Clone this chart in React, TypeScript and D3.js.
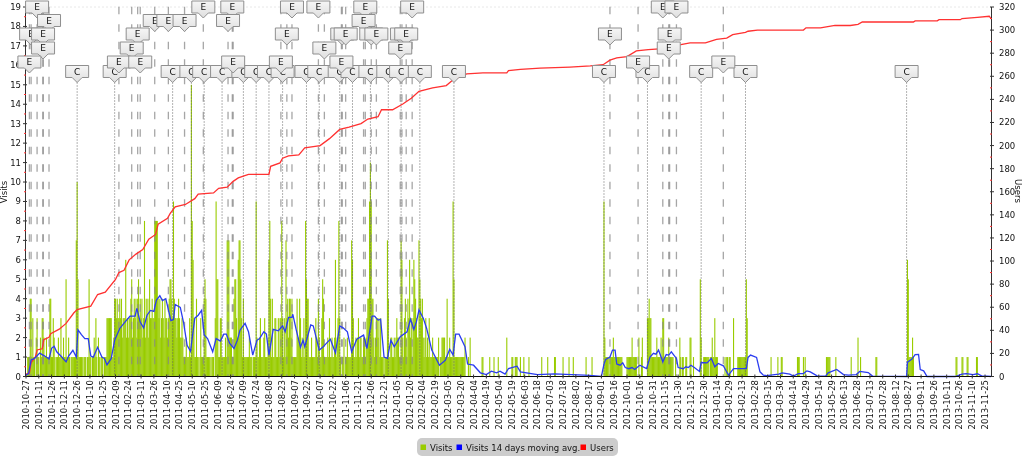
import * as React from "react";
import * as d3 from "d3";

const width = 1024;
const height = 459;
const plot = { left: 26, right: 991, top: 7, bottom: 376.5 };

// day 0 is the first tick label
const startDate = new Date(Date.UTC(2010, 9, 27));
const lastDay = 1132;
const tickStep = 15;

// daily visits, one row per 15 day tick
const visitsByTick = [
  [0,0,1,1,1,4,4,1,3,1,1,0,2,3,1],
  [1,0,2,1,3,3,2,1,1,2,1,1,1,4,4],
  [1,1,3,2,1,0,1,1,2,1,1,3,1,1,2],
  [1,1,5,1,1,2,1,0,1,1,1,1,1,1,7],
  [10,5,1,1,1,1,1,0,1,1,1,0,1,1,5],
  [1,1,0,1,1,2,1,3,1,0,2,1,0,1,1],
  [1,0,1,1,1,3,3,3,3,3,3,1,1,2,4],
  [4,3,4,3,3,4,3,4,2,3,3,3,6,2,3],
  [2,3,3,4,5,2,3,4,3,4,2,4,5,3,4],
  [3,4,2,3,8,2,4,3,4,2,5,3,3,4,3],
  [3,8,8,8,8,4,3,4,2,3,4,3,2,4,3],
  [3,2,3,4,5,5,4,3,9,4,3,3,2,3,4],
  [3,2,2,3,2,1,1,1,2,1,1,1,3,1,15],
  [8,6,3,1,1,4,1,1,0,1,3,1,1,1,4],
  [5,4,1,1,1,1,1,0,1,1,1,0,3,9,5],
  [5,1,1,3,3,1,1,1,1,2,1,7,7,7,2],
  [2,2,1,1,4,5,5,3,2,6,7,7,5,3,1],
  [4,1,1,1,1,1,1,2,1,1,1,0,1,1,1],
  [9,2,1,1,2,3,1,1,1,2,3,1,1,1,2],
  [6,8,4,1,4,1,1,3,3,1,1,3,1,3,3],
  [8,3,1,3,1,7,3,4,2,4,4,2,4,1,1],
  [1,1,1,4,2,2,4,3,1,2,1,3,1,8,5],
  [4,4,1,1,1,2,1,1,1,1,3,2,1,4,2],
  [1,1,3,5,4,1,1,1,1,2,1,3,1,1,2],
  [1,1,2,6,1,2,3,8,3,1,0,1,1,2,0],
  [1,1,2,1,1,1,1,7,6,3,1,1,2,1,2],
  [3,1,2,2,1,1,2,2,1,2,3,4,4,9,11],
  [9,4,4,2,1,2,3,3,2,3,1,3,1,1,1],
  [0,1,1,1,7,4,1,1,2,2,1,1,2,1,2],
  [3,2,2,1,1,7,6,2,1,3,4,2,1,4,3],
  [6,2,3,1,3,6,5,4,3,2,2,7,5,4,3],
  [4,2,1,2,3,1,2,1,3,1,1,1,2,1,1],
  [1,1,1,1,2,0,1,1,2,2,2,2,1,1,4],
  [1,1,2,1,1,1,9,5,1,1,1,1,1,1,1],
  [1,1,1,1,1,2,0,0,0,1,0,2,0,0,0],
  [0,0,0,0,0,0,0,0,0,0,1,1,0,0,0],
  [0,0,0,0,1,0,0,0,0,1,0,0,0,0,1],
  [0,0,0,0,0,0,0,0,0,2,0,0,0,0,0],
  [1,1,0,0,1,1,1,0,0,0,1,0,0,0,1],
  [0,0,0,0,0,1,0,0,0,0,0,0,0,0,0],
  [0,0,0,0,0,1,0,0,0,0,0,0,1,0,0],
  [0,0,0,0,0,1,1,0,0,0,0,0,0,0,0],
  [1,0,0,0,0,0,0,1,0,0,0,0,1,0,0],
  [0,0,0,0,0,0,0,0,0,0,0,0,1,0,0],
  [0,0,0,0,1,0,0,0,0,0,0,0,0,0,0],
  [0,0,0,9,2,1,1,1,1,0,1,1,1,1,2],
  [1,1,1,1,1,1,1,1,1,1,0,0,0,0,0],
  [1,1,1,1,1,1,2,1,1,1,1,1,0,0,2],
  [0,0,1,2,0,0,0,0,0,3,3,4,3,3,1],
  [1,1,1,1,1,2,1,1,1,1,2,1,3,3,1],
  [1,1,1,1,2,1,1,1,1,1,0,0,1,0,0],
  [0,0,2,1,0,1,1,0,0,1,1,0,0,0,2],
  [2,0,0,1,0,0,0,0,0,0,0,5,2,0,0],
  [1,1,1,1,1,1,1,0,1,1,2,1,1,3,1],
  [1,1,0,0,0,0,0,0,0,0,1,0,1,1,0],
  [1,1,0,0,0,3,0,0,0,0,1,1,1,1,1],
  [1,1,1,1,1,5,3,0,0,0,0,0,0,0,0],
  [0,0,0,0,0,0,0,0,0,0,0,0,0,0,0],
  [0,0,0,0,1,0,0,0,0,0,0,0,1,0,0],
  [0,1,1,0,0,0,0,0,0,0,0,0,0,0,0],
  [0,0,0,0,0,1,1,1,0,0,0,0,1,0,1],
  [0,0,0,0,0,0,0,0,0,0,0,0,0,0,0],
  [0,0,0,0,0,0,0,0,0,1,1,1,1,1,0],
  [0,0,0,0,0,1,0,0,0,0,0,0,0,0,0],
  [0,0,0,0,0,0,0,0,1,0,0,0,0,0,0],
  [0,2,0,0,1,0,0,0,0,0,0,0,0,0,0],
  [0,0,0,0,0,0,0,1,1,0,0,0,0,0,0],
  [0,0,0,0,0,0,0,0,0,0,0,0,0,0,0],
  [0,0,0,0,0,0,0,0,0,0,0,0,0,0,6],
  [5,1,1,1,1,2,1,0,0,0,0,0,0,0,0],
  [0,0,0,0,0,0,0,0,0,0,0,0,0,0,0],
  [0,0,0,0,0,0,0,0,0,0,0,0,0,0,0],
  [0,0,0,0,0,0,0,0,0,0,0,1,1,0,0],
  [0,0,0,1,1,0,0,0,0,1,1,0,0,0,0],
  [0,0,0,0,0,1,1,0,0,0,0,0,0,0,0],
  [0,0,0,0,0,0,0],
];
const visits = visitsByTick.flat();

// 14 days moving average
const avgDays = [
  0,3,6,10,16,22,27,30,33,36,42,47,50,55,59,61,65,69,73,76,79,84,89,92,95,100,104,110,116,122,128,130,134,138,142,146,150,153,157,160,164,168,170,173,175,181,185,189,193,198,202,206,209,213,219,223,228,232,235,239,244,248,251,257,261,266,271,274,
  279,282,285,290,296,301,304,308,312,313,317,322,325,327,334,337,344,348,357,363,368,372,377,382,388,396,400,406,409,413,416,420,424,428,432,439,447,451,455,458,461,466,470,476,485,492,497,501,504,508,515,518,525,533,540,546,552,556,562,566,576,580,
  600,620,640,655,665,675,678,680,685,688,691,693,697,700,703,707,711,714,720,728,732,736,739,742,747,751,754,757,763,765,771,774,777,780,784,790,792,799,804,808,812,818,824,830,838,845,847,850,857,861,865,869,883,887,896,900,906,912,916,920,928,938,941,951,959,965,974,978,988,993,
  1033,1034,1039,1043,1047,1049,1053,1057,1090,1098,1103,1111,1116,1121,1127,1132,
];
const avgValues = [
  0.07,0.15,0.85,0.93,1.2,1.05,0.9,1.45,1.55,1.27,1,0.75,1.05,1.35,1,2.4,2.15,1.95,1.95,1.05,1,1.5,1,0.93,0.6,0.93,1.87,2.47,2.8,3.1,3.1,3.5,2.8,2.5,3.15,3.4,3.35,3.93,4.15,3.9,4,3.25,2.87,2.93,3.7,3.55,2.73,1.6,1.3,3,3.15,3.4,2.13,1.95,1.27,1.95,1.82,2.18,2.18,1.7,1.44,1.87,2.38,2.73,2.3,1.1,1.87,1.95,
  2.3,2.18,1.1,2.42,2.35,2.6,2.3,3.04,3.04,3.2,2.4,1.5,1.87,1.53,2.65,2.6,1.36,1.5,1.92,1.22,2.6,2.5,2.3,1.27,1.92,2.13,1.44,3.1,3.1,2.9,2.94,1,0.93,1.87,1.53,2.05,2.3,2.94,2.42,2.82,3.42,3,2.47,1.36,0.58,0.84,1.4,1.1,2.18,2.18,1.53,0.64,0.58,0.19,0.1,0.27,0.19,0.27,0.12,0.41,0.53,0.24,
  0.1,0.14,0.1,0.07,0.05,0,0.64,0.88,1,1.36,1.36,0.64,0.58,0.7,0.46,0.4,0.46,0.36,0.58,0.41,1,1.19,1.15,1.36,0.76,1.13,1.1,1.27,0.93,0.46,0.4,0.5,0.46,0.58,0.46,0.26,0.72,0.7,0.93,0.5,0.67,0.55,0.07,0.41,0.41,0.41,0.98,1.1,0.98,0.24,0.07,0.05,0.12,0.19,0.12,0.02,0.15,0.15,0.29,0.24,0.03,0.02,0.19,0.36,0.1,0.07,0.1,0.26,0.2,0.02,
  0,0.74,0.88,1.12,1.13,0.36,0.29,0,0,0.12,0.15,0.1,0.14,0.03,0.02,0,
];

// cumulative users
const userDays = [
  0,4,6,11,13,19,21,27,29,39,47,56,60,76,84,93,105,109,115,121,129,137,144,152,155,166,169,175,187,198,202,220,226,236,243,249,261,285,287,298,301,308,320,327,345,356,368,379,393,401,413,417,430,442,452,461,477,493,501,517,536,564,566,580,603,638,662,677,685,693,705,716,730,747,752,765,779,797,810,822,829,844,847,858,912,915,932,949,967,976,981,1041,1043,1069,1071,1096,1098,1116,1130,1132,
];
const userValues = [
  2,3,12,17,23,24,32,34,37,41,46,55,58,61,71,73,84,90,92,101,106,110,119,123,132,137,141,147,149,154,158,159,163,164,169,172,175,175,182,185,189,191,192,198,200,206,214,216,219,223,225,231,231,236,241,247,250,252,257,262,263,263,265,266,267,268,269,270,274,276,277,282,283,284,286,287,289,289,292,293,296,298,299,300,300,302,302,304,304,305,307,307,308,308,309,309,310,311,312,310,
];

// flags: "C" with dotted lines, "E" with dashed lines
const commentDays = [60,104,172,194,209,230,255,270,285,301,329,344,368,383,404,425,440,462,502,678,729,792,844,1033];
const eventDays = [13,27,6,20,20,4,131,124,109,134,151,167,186,208,242,237,243,312,343,398,396,453,306,375,371,411,405,446,441,350,439,299,370,685,718,747,763,755,754,818];
const eventRows = [0,1,2,2,3,4,2,3,4,4,1,1,1,0,0,1,4,0,0,0,1,0,2,2,2,2,2,2,2,3,3,4,4,2,4,0,0,2,3,4];
const flagRowTops = [1, 14.5, 28, 42, 56, 65.5];
const commentRow = 5;

const visitTicks = d3.range(0, 20);
const userTicks = d3.range(0, 321, 20);

const legendItems = [
  { label: "Visits", color: "#99cc00", sw: 423, tx: 430 },
  { label: "Visits 14 days moving avg.", color: "#0000ff", sw: 459, tx: 466 },
  { label: "Users", color: "#ff0000", sw: 583, tx: 590 },
];

const fontFamily = "'DejaVu Sans'";
const formatDate = d3.utcFormat("%Y-%m-%d");

const Flag = ({ x, top, letter }: { x: number; top: number; letter: string }) => {
  const w = 23;
  const h = 12;
  const tip = 5;
  const d = `M${x - w / 2},${top}H${x + w / 2}V${top + h}H${x + tip}L${x},${top + h + tip}L${x - tip},${top + h}H${x - w / 2}Z`;
  return (
    <g>
      <path d={d} fill="url(#flagFill)" stroke="#8f8f8f" strokeWidth={1} />
      <text x={x} y={top + 9.2} textAnchor="middle" fontSize={9} fill="#111">{letter}</text>
    </g>
  );
};

export default function App() {
  const x = d3.scaleLinear().domain([0, lastDay]).range([plot.left, plot.right]);
  const yVisits = d3.scaleLinear().domain([0, 19]).range([plot.bottom, plot.top]);
  const yUsers = d3.scaleLinear().domain([0, 320]).range([plot.bottom, plot.top]);

  const avgLine = d3.line<number>().x((d) => x(d)).y((_, i) => yVisits(avgValues[i]));
  const userLine = d3.line<number>().x((d) => x(d)).y((_, i) => yUsers(userValues[i]));

  const dateTicks = d3.range(0, lastDay, tickStep);
  const events = eventDays
    .map((day, i) => ({ day, row: eventRows[i] }))
    .sort((a, b) => a.row - b.row || a.day - b.day);

  return (
    <svg width={width} height={height} fontFamily={fontFamily} style={{ position: "absolute", left: 0, top: 0 }}>
      <defs>
        <linearGradient id="flagFill" x1="0" y1="0" x2="0" y2="1">
          <stop offset="0" stopColor="#f6f6f6" />
          <stop offset="1" stopColor="#dedede" />
        </linearGradient>
        {/* the reference is a scaled down screenshot, everything is a bit soft */}
        <filter id="soft" x="0" y="0" width="100%" height="100%" filterUnits="userSpaceOnUse">
          <feGaussianBlur stdDeviation="0.38" />
        </filter>
      </defs>

      <g filter="url(#soft)">
        <rect width={width} height={height} fill="#fff" />
        <line x1={plot.left} x2={plot.right} y1={plot.top} y2={plot.top} stroke="#e8e8e8" strokeDasharray="2 2" />

        {visits.map((v, i) =>
          v > 0 ? (
            <rect key={i} x={x(i) - 0.55} width={1.1} y={yVisits(v)} height={plot.bottom - yVisits(v)} fill="#99cc00" />
          ) : null
        )}

        {commentDays.map((d) => (
          <line key={d} x1={x(d)} x2={x(d)} y1={flagRowTops[commentRow] + 17} y2={plot.bottom} stroke="#666" strokeWidth={1} strokeDasharray="1 2" />
        ))}
        {events.map((e, i) => (
          <line key={i} x1={x(e.day)} x2={x(e.day)} y1={6.7} y2={plot.bottom} stroke="#888" strokeOpacity={0.75} strokeWidth={1.3} strokeDasharray="7.5 10" />
        ))}

        <path d={userLine(userDays) ?? ""} fill="none" stroke="#ff3030" strokeWidth={1.3} />
        <path d={avgLine(avgDays) ?? ""} fill="none" stroke="#2a3cf0" strokeWidth={1.3} />

        {/* left axis */}
        <line x1={plot.left - 0.5} x2={plot.left - 0.5} y1={plot.top} y2={plot.bottom} stroke="#333" />
        {visitTicks.map((t) => (
          <g key={t}>
            <line x1={plot.left - 3} x2={plot.left + 1} y1={yVisits(t)} y2={yVisits(t)} stroke="#333" />
            {t < 19 && <line x1={plot.left - 2} x2={plot.left} y1={yVisits(t + 0.5)} y2={yVisits(t + 0.5)} stroke="#ff3030" />}
            <text x={plot.left - 5} y={yVisits(t) + 3} textAnchor="end" fontSize={8.5} fill="#111">{t}</text>
          </g>
        ))}
        <text transform={`translate(7,192) rotate(-90)`} textAnchor="middle" fontSize={8.5} fill="#111">Visits</text>

        {/* right axis */}
        <line x1={plot.right + 0.5} x2={plot.right + 0.5} y1={plot.top} y2={plot.bottom} stroke="#333" />
        {userTicks.map((t) => (
          <g key={t}>
            <line x1={plot.right - 1} x2={plot.right + 3} y1={yUsers(t)} y2={yUsers(t)} stroke="#333" />
            {t < 320 && <line x1={plot.right - 1} x2={plot.right + 1} y1={yUsers(t + 10)} y2={yUsers(t + 10)} stroke="#ff3030" />}
            <text x={plot.right + 8} y={yUsers(t) + 3} fontSize={8.5} fill="#111">{t}</text>
          </g>
        ))}
        <text transform={`translate(1015,191) rotate(90)`} textAnchor="middle" fontSize={8.5} fill="#111">Users</text>

        {/* bottom axis */}
        <line x1={plot.left} x2={plot.right} y1={plot.bottom} y2={plot.bottom} stroke="#111" />
        {dateTicks.map((d) => (
          <g key={d}>
            <line x1={x(d)} x2={x(d)} y1={plot.bottom - 2} y2={plot.bottom + 2} stroke="#333" />
            <text transform={`translate(${x(d) + 3},380) rotate(-90)`} textAnchor="end" fontSize={8.5} fill="#111">
              {formatDate(d3.utcDay.offset(startDate, d))}
            </text>
          </g>
        ))}

        {commentDays.map((d) => (
          <Flag key={d} x={x(d)} top={flagRowTops[commentRow]} letter="C" />
        ))}
        {events.map((e, i) => (
          <Flag key={i} x={x(e.day)} top={flagRowTops[e.row]} letter="E" />
        ))}

        {/* legend */}
        <rect x={417} y={438} width={201} height={18} rx={5} fill="#cccccc" />
        {legendItems.map((l) => (
          <g key={l.label}>
            <rect x={l.sw - 2.5} y={444.5} width={5.5} height={5.5} fill={l.color} />
            <text x={l.tx} y={450.5} fontSize={8.5} fill="#111">{l.label}</text>
          </g>
        ))}
      </g>
    </svg>
  );
}
